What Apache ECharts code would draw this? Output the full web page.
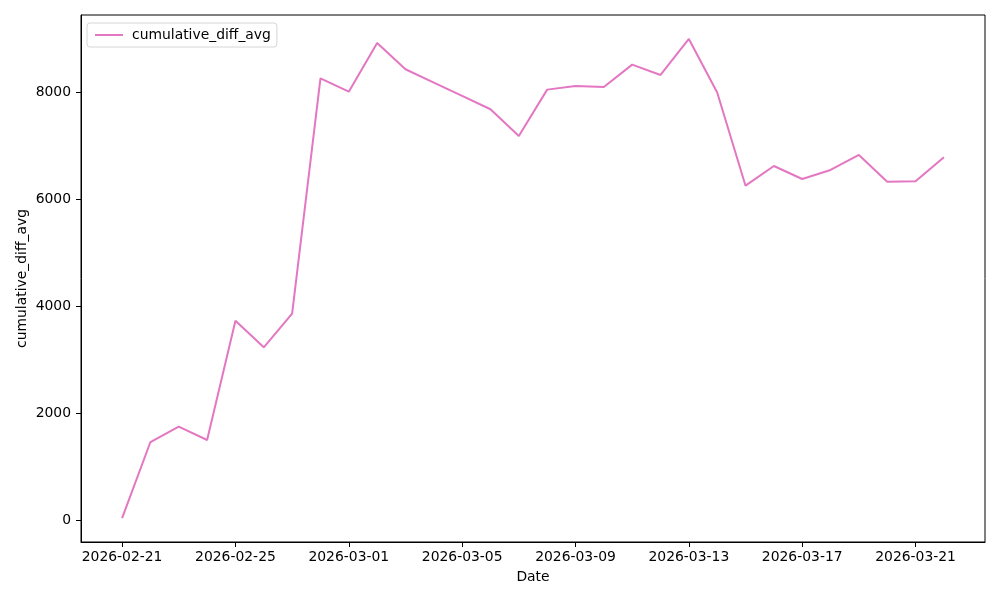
<!DOCTYPE html>
<html>
<head>
<meta charset="utf-8">
<script src="https://cdn.jsdelivr.net/npm/echarts@6/dist/echarts.min.js"></script>
<style>html,body{margin:0;padding:0;background:#fff;}#c{width:1000px;height:600px;}</style>
</head>
<body>
<div id="c"></div>
<script>
var dates = ["2026-02-21","2026-02-22","2026-02-23","2026-02-24","2026-02-25","2026-02-26","2026-02-27","2026-02-28",
  "2026-03-01","2026-03-02","2026-03-03","2026-03-04","2026-03-05","2026-03-06","2026-03-07","2026-03-08",
  "2026-03-09","2026-03-10","2026-03-11","2026-03-12","2026-03-13","2026-03-14","2026-03-15","2026-03-16",
  "2026-03-17","2026-03-18","2026-03-19","2026-03-20","2026-03-21","2026-03-22"];
var cumulativeDiffAvg = [37,1458,1744,1495,3725,3228,3856,8255,
  8005,8915,8424,8175,7925,7676,7177,8043,
  8111,8093,8510,8317,8990,7990,6248,6616,
  6373,6542,6822,6323,6330,6779];
var xTickDates = ["2026-02-21","2026-02-25","2026-03-01","2026-03-05","2026-03-09","2026-03-13","2026-03-17","2026-03-21"];
var yTicks = [0,2000,4000,6000,8000];

var DAY = 86400000;
var t0 = Date.parse(dates[0]);
function dayIndex(s){ return Math.round((Date.parse(s) - t0) / DAY); }
function indexToDate(i){ return new Date(t0 + i * DAY).toISOString().slice(0,10); }

var seriesData = dates.map(function(d, i){ return [dayIndex(d), cumulativeDiffAvg[i]]; });
var xTickVals = xTickDates.map(dayIndex);

var xs = seriesData.map(function(p){return p[0];});
var xMinD = Math.min.apply(null, xs), xMaxD = Math.max.apply(null, xs);
var xPad = (xMaxD - xMinD) * 0.05;
var yMinD = Math.min.apply(null, cumulativeDiffAvg), yMaxD = Math.max.apply(null, cumulativeDiffAvg);
var yPad = (yMaxD - yMinD) * 0.05;

var FONT = 'DejaVu Sans';
var FS = 13.9;
var chart = echarts.init(document.getElementById('c'), null, {renderer:'canvas'});
chart.setOption({
  animation: false,
  backgroundColor: '#fff',
  textStyle: {fontFamily: FONT},
  grid: {left: 81, right: 15, top: 15, bottom: 58, show: true, borderColor: '#000', borderWidth: 1, backgroundColor: 'transparent'},
  legend: {
    left: 87, top: 23,
    orient: 'vertical',
    padding: [5, 6, 5, 8],
    itemGap: 0,
    itemWidth: 28, itemHeight: 14,
    borderColor: '#d6d6d6', borderWidth: 1, borderRadius: 3,
    backgroundColor: 'rgba(255,255,255,0.8)',
    textStyle: {fontFamily: FONT, fontSize: FS, color: '#000', padding: [0,0,0,4]},
    data: [{name: 'cumulative_diff_avg', icon: 'path://M0,0 L28,0 L28,2 L0,2 Z'}]
  },
  xAxis: {
    type: 'value',
    min: xMinD - xPad, max: xMaxD + xPad,
    name: 'Date', nameLocation: 'middle', nameGap: 28, nameMoveOverlap: false,
    nameTextStyle: {fontFamily: FONT, fontSize: FS, color: '#000'},
    axisLine: {show: true, onZero: false, lineStyle: {color: '#000', width: 1}},
    axisTick: {show: true, length: 5, lineStyle: {color: '#000'}, customValues: xTickVals},
    axisLabel: {show: true, margin: 8, fontFamily: FONT, fontSize: FS, color: '#000', customValues: xTickVals,
      formatter: function(v){ return indexToDate(Math.round(v)); }},
    splitLine: {show: false}
  },
  yAxis: {
    type: 'value',
    min: yMinD - yPad, max: yMaxD + yPad,
    name: 'cumulative_diff_avg', nameLocation: 'middle', nameGap: 52, nameRotate: 90, nameMoveOverlap: false,
    nameTextStyle: {fontFamily: FONT, fontSize: FS, color: '#000'},
    axisLine: {show: true, onZero: false, lineStyle: {color: '#000', width: 1}},
    axisTick: {show: true, length: 5, lineStyle: {color: '#000'}, customValues: yTicks},
    axisLabel: {show: true, margin: 10, fontFamily: FONT, fontSize: FS, color: '#000', customValues: yTicks,
      formatter: function(v){ return String(Math.round(v)); }},
    splitLine: {show: false}
  },
  series: [{
    name: 'cumulative_diff_avg',
    type: 'line',
    data: seriesData,
    showSymbol: false,
    symbol: 'none',
    lineStyle: {color: '#e377c2', width: 2},
    itemStyle: {color: '#e377c2'}
  }]
});
</script>
</body>
</html>
